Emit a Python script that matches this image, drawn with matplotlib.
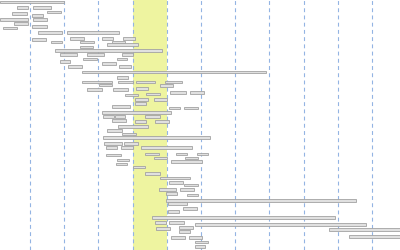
import matplotlib
matplotlib.use("Agg")
import matplotlib.pyplot as plt
import numpy as np

# Timeline bars: start, end, lane position
starts = [0, 17, 33, 47, 12, 32, 0, 33, 14, 32, 3, 38, 67, 70, 102, 123, 32, 51, 80, 112,
          107, 80, 55, 60, 87, 122, 83, 117, 60, 102, 68, 119, 82, 117, 82, 118, 136, 165,
          99, 160, 136, 87, 113, 170, 190, 146, 125, 135, 154, 135, 112, 169, 184, 102,
          103, 115, 145, 112, 135, 155, 118, 107, 122, 103, 104, 124, 106, 121, 141,
          145, 176, 197, 106, 154, 185, 117, 171, 116, 133,
          145, 160, 169, 184, 159, 180, 166, 187, 166, 168, 183, 168, 152, 155, 169,
          195, 179, 156, 329, 179, 349, 171, 189, 195, 195]
ends = [64, 28, 51, 61, 27, 43, 28, 47, 28, 47, 17, 62, 119, 84, 113, 135, 46, 62, 94, 125,
        138, 93, 162, 77, 104, 133, 97, 127, 70, 116, 82, 131, 266, 128, 112, 133, 155, 182,
        112, 173, 148, 102, 128, 186, 204, 160, 138, 148, 167, 146, 130, 180, 198, 171,
        114, 125, 160, 126, 146, 169, 148, 122, 136, 210, 122, 138, 117, 133, 192,
        159, 187, 208, 121, 167, 198, 129, 202, 127, 145,
        160, 190, 183, 198, 176, 194, 177, 198, 356, 187, 197, 179, 335, 166, 184,
        366, 193, 170, 400, 190, 400, 185, 202, 208, 205]
lanes = [2, 7.3, 7.3, 12, 13.3, 15.3, 19.3, 19.3, 23.3, 26.7, 28, 32.3, 32.3, 38.3, 38.3, 38.3,
         39.7, 42, 42, 42, 44.7, 47, 50.7, 54.3, 54.3, 54.3, 59, 59, 61.3, 63.7, 66.7, 66.7,
         72, 77.3, 82, 82, 82, 82,
         85, 85.5, 88.3, 89.7, 89.7, 92.3, 92.3, 94, 95, 99.3, 99.3, 103.7, 106.7, 108, 108,
         112.7, 116.3, 116.3, 116.3, 120.7, 121.7, 121.7, 126.3, 130.7, 134, 137.7, 143.3,
         143.3, 147.3, 147.3, 147.7, 154, 154, 154, 155, 158, 158, 160, 161.7, 164, 167,
         173.7, 178, 182.3, 185, 189.3, 189.3, 193.7, 195, 200.3, 203.7, 208.7, 211.3,
         217.3, 222.3, 222.3, 224.7, 227.3, 228.7, 229.7, 231.7, 236.3, 237.3, 237.3,
         242, 246.3]

# Gridline (period boundary) positions and highlighted period
grid_ticks = [30, 64.2, 98.4, 132.6, 166.8, 201, 235.2, 269.4, 303.6, 337.8, 372]
highlight = (132.6, 166.8)

fig = plt.figure(figsize=(4, 2.5), dpi=100)
ax = fig.add_axes([0, 0, 1, 1])
ax.set_xlim(0, 400)
ax.set_ylim(250, 0)
ax.axis("off")

ax.axvspan(highlight[0], highlight[1], color="#eef4a0", zorder=0, lw=0)
for g in grid_ticks:
    ax.axvline(g, color="#93b4e3", lw=0.8, ls=(0, (3.5, 3)), zorder=1)

s = np.array(starts, dtype=float)
e = np.array(ends, dtype=float)
ax.barh(lanes, e - s, left=s, height=2.6, color="#e0e0e0",
        edgecolor="#a2a2a2", linewidth=0.6, zorder=2)

fig.savefig("out.png", dpi=100, facecolor="white")
